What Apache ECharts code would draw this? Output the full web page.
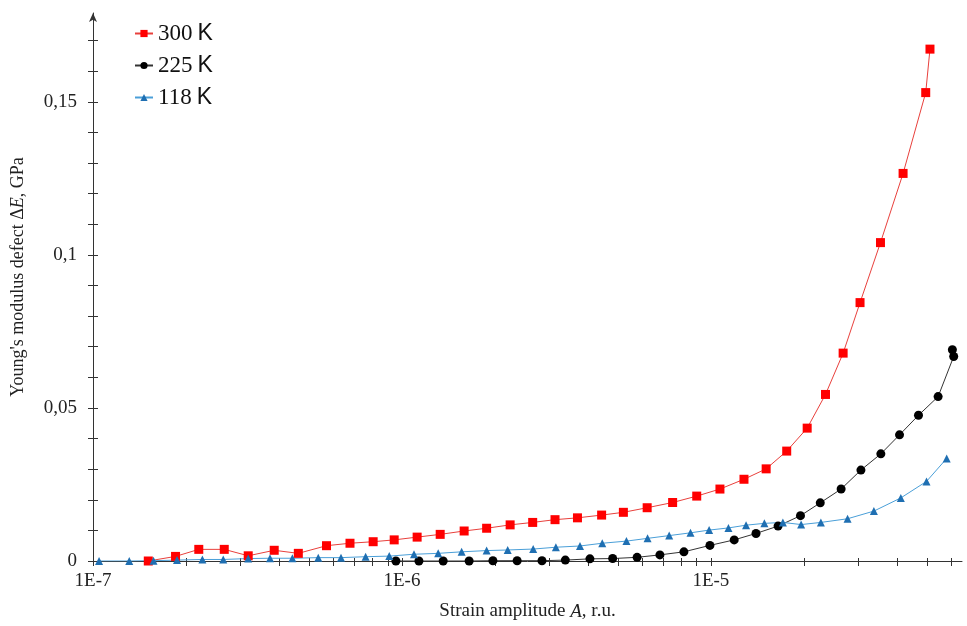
<!DOCTYPE html>
<html>
<head>
<meta charset="utf-8">
<script src="https://cdn.jsdelivr.net/npm/echarts@6/dist/echarts.min.js"></script>
<style>
  html, body { margin: 0; background: #fff; }
  #chart { width: 967px; height: 626px; }
</style>
</head>
<body>
<div id="chart"></div>
<script>
// 300 K (red squares)
const strain300 = [1.51e-7, 1.85e-7, 2.20e-7, 2.66e-7, 3.18e-7, 3.86e-7, 4.62e-7, 5.70e-7, 6.79e-7, 8.07e-7,
  9.44e-7, 1.12e-6, 1.33e-6, 1.59e-6, 1.88e-6, 2.24e-6, 2.65e-6, 3.13e-6, 3.70e-6, 4.43e-6,
  5.21e-6, 6.22e-6, 7.52e-6, 9.0e-6, 1.07e-5, 1.28e-5, 1.51e-5, 1.76e-5, 2.05e-5, 2.35e-5,
  2.68e-5, 3.04e-5, 3.54e-5, 4.19e-5, 4.96e-5, 5.12e-5]
const defect300 = [0, 0.0015, 0.0038, 0.0038, 0.0017, 0.0035, 0.0025, 0.005, 0.0058, 0.0063,
  0.0069, 0.0078, 0.0087, 0.0098, 0.0107, 0.0118, 0.0126, 0.0135, 0.0141, 0.0150,
  0.0159, 0.0174, 0.0191, 0.0212, 0.0235, 0.0267, 0.0301, 0.0359, 0.0434, 0.0544,
  0.0679, 0.0844, 0.1040, 0.1266, 0.1530, 0.1672]

// 225 K (black circles)
const strain225 = [9.56e-7, 1.135e-6, 1.36e-6, 1.65e-6, 1.97e-6, 2.36e-6, 2.84e-6, 3.38e-6, 4.06e-6, 4.81e-6,
  5.77e-6, 6.84e-6, 8.18e-6, 9.93e-6, 1.19e-5, 1.40e-5, 1.65e-5, 1.95e-5, 2.26e-5, 2.64e-5,
  3.06e-5, 3.55e-5, 4.08e-5, 4.70e-5, 5.44e-5, 6.11e-5, 6.05e-5]
const defect225 = [0, 0, 0, 0, 0.0001, 0.0001, 0.0001, 0.0003, 0.0007, 0.0008,
  0.0012, 0.002, 0.003, 0.0051, 0.0069, 0.009, 0.0114, 0.0148, 0.019, 0.0235,
  0.0297, 0.035, 0.0412, 0.0476, 0.0537, 0.0668, 0.069]

// 118 K (blue triangles)
const strain118 = [1.046e-7, 1.31e-7, 1.57e-7, 1.87e-7, 2.26e-7, 2.64e-7, 3.18e-7, 3.74e-7, 4.42e-7, 5.36e-7,
  6.35e-7, 7.63e-7, 9.10e-7, 1.094e-6, 1.31e-6, 1.56e-6, 1.88e-6, 2.20e-6, 2.66e-6, 3.15e-6,
  3.77e-6, 4.45e-6, 5.33e-6, 6.24e-6, 7.33e-6, 8.59e-6, 9.87e-6, 1.14e-5, 1.30e-5, 1.49e-5,
  1.71e-5, 1.96e-5, 2.27e-5, 2.77e-5, 3.37e-5, 4.12e-5, 4.99e-5, 5.80e-5]
const defect118 = [0, 0, 0.0001, 0.0003, 0.0005, 0.0005, 0.0008, 0.0009, 0.0009, 0.0011,
  0.0011, 0.0014, 0.0016, 0.0022, 0.0025, 0.003, 0.0034, 0.0036, 0.0039, 0.0045,
  0.0049, 0.0058, 0.0065, 0.0074, 0.0083, 0.0092, 0.0101, 0.0108, 0.0117, 0.0123,
  0.0126, 0.0119, 0.0126, 0.0138, 0.0163, 0.0206, 0.026, 0.0335]

// axis ticks and labels
const strainTicks = [1e-7, 2e-7, 3e-7, 4e-7, 5e-7, 6e-7, 7e-7, 8e-7, 9e-7,
  1e-6, 2e-6, 3e-6, 4e-6, 5e-6, 6e-6, 7e-6, 8e-6, 9e-6,
  1e-5, 2e-5, 3e-5, 4e-5, 5e-5, 6e-5]
const defectTicks = [0, 0.01, 0.02, 0.03, 0.04, 0.05, 0.06, 0.07, 0.08, 0.09,
  0.1, 0.11, 0.12, 0.13, 0.14, 0.15, 0.16, 0.17]
const defectLabels = [0, 0.05, 0.1, 0.15]

const SERIF = '"Liberation Serif", "Times New Roman", serif'
const SANS = '"Liberation Sans", Arial, sans-serif'
const AXIS = '#333'
const TEXT = '#222'

const zip = (xs, ys) => xs.map((x, i) => [x, ys[i]])

const fmtStrain = v => {
  const e = Math.log10(v)
  return Math.abs(e - Math.round(e)) < 1e-6 ? '1E' + Math.round(e) : ''
}

// Ticks cross the axis line: each axis is paired with a twin that only draws
// the inward half of the ticks (its own line is transparent).
const xBase = { type: 'log', logBase: 10, min: 1e-7, max: 6.5e-5, splitLine: { show: false } }
const yBase = { type: 'value', min: 0, max: 0.179, interval: 0.01, splitLine: { show: false } }
const hiddenLine = { show: true, onZero: false, lineStyle: { color: 'rgba(0,0,0,0)' } }

const chart = echarts.init(document.getElementById('chart'))

chart.setOption({
  animation: false,
  backgroundColor: '#fff',
  grid: { left: 93, right: 5, top: 13, bottom: 65, containLabel: false },
  legend: {
    orient: 'vertical',
    left: 129,
    top: 17,
    itemWidth: 18,
    itemHeight: 9,
    itemGap: 9,
    data: ['300 K', '225 K', '118 K'],
    formatter: name => `{n|${name.split(' ')[0]}}{k|K}`,
    textStyle: {
      rich: {
        n: { fontFamily: SERIF, fontSize: 23, color: '#111', lineHeight: 24 },
        k: { fontFamily: SANS, fontSize: 23, color: '#111', lineHeight: 24, padding: [0, 0, 0, 5] },
      },
    },
  },
  xAxis: [
    {
      ...xBase,
      position: 'bottom',
      name: '{t|Strain amplitude }{i|A}{t|, r.u.}',
      nameLocation: 'middle',
      nameGap: 41,
      nameTextStyle: {
        rich: {
          t: { fontFamily: SERIF, fontSize: 19, color: TEXT },
          i: { fontFamily: SERIF, fontSize: 19, color: TEXT, fontStyle: 'italic' },
        },
      },
      axisLine: { onZero: false, lineStyle: { color: AXIS, width: 1 } },
      axisTick: { show: true, inside: false, length: 5, customValues: strainTicks, lineStyle: { color: AXIS } },
      axisLabel: { margin: 11, fontFamily: SERIF, fontSize: 19, color: TEXT, formatter: fmtStrain },
    },
    {
      ...xBase,
      position: 'bottom',
      axisLine: hiddenLine,
      axisTick: { show: true, inside: true, length: 3, customValues: strainTicks, lineStyle: { color: AXIS } },
      axisLabel: { show: false },
    },
  ],
  yAxis: [
    {
      ...yBase,
      position: 'left',
      name: '{t|Young\'s modulus defect Δ}{i|E}{t|, GPa}',
      nameLocation: 'middle',
      nameGap: 66,
      nameTextStyle: {
        padding: [0, 0, 0, 20],
        rich: {
          t: { fontFamily: SERIF, fontSize: 18, color: TEXT },
          i: { fontFamily: SERIF, fontSize: 18, color: TEXT, fontStyle: 'italic' },
        },
      },
      axisLine: { show: true, symbol: ['none', 'arrow'], symbolSize: [6, 9], lineStyle: { color: AXIS, width: 1 } },
      axisTick: { show: true, inside: false, length: 5, customValues: defectTicks, lineStyle: { color: AXIS } },
      axisLabel: {
        margin: 16, fontFamily: SERIF, fontSize: 19, color: TEXT,
        customValues: defectLabels,
        formatter: v => String(v).replace('.', ','),
      },
    },
    {
      ...yBase,
      position: 'left',
      axisLine: hiddenLine,
      axisTick: { show: true, inside: true, length: 5, customValues: defectTicks, lineStyle: { color: AXIS } },
      axisLabel: { show: false },
    },
  ],
  series: [
    {
      name: '300 K',
      type: 'line',
      data: zip(strain300, defect300),
      symbol: 'rect',
      symbolSize: 9,
      itemStyle: { color: '#ff0000' },
      lineStyle: { color: '#e8403c', width: 1 },
    },
    {
      name: '225 K',
      type: 'line',
      data: zip(strain225, defect225),
      symbol: 'circle',
      symbolSize: 9,
      itemStyle: { color: '#000' },
      lineStyle: { color: '#333', width: 1 },
    },
    {
      name: '118 K',
      type: 'line',
      data: zip(strain118, defect118),
      symbol: 'triangle',
      symbolSize: 8,
      itemStyle: { color: '#1f6fb2' },
      lineStyle: { color: '#4a9fd8', width: 1 },
    },
  ],
})
</script>
</body>
</html>
